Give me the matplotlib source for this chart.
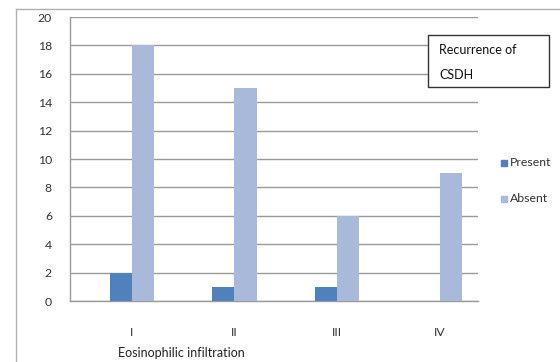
import numpy as np
import matplotlib.pyplot as plt
from matplotlib.patches import Rectangle
from matplotlib.lines import Line2D

plt.rcParams['font.family'] = ['Lato', 'DejaVu Sans']

# eosinophilic infiltration grades and recurrence counts
grades = ["I", "II", "III", "IV"]
present = [2, 1, 1, 0]
absent = [18, 15, 6, 9]
y_ticks = list(range(0, 21, 2))

c_present = "#4F81BD"
c_absent = "#A9B9D9"
c_grid = "#9a9a9a"

fig = plt.figure(figsize=(5.6, 3.62), dpi=100)
W, H = 560, 362

# outer chart frame (only top and left edges show)
fig.add_artist(Line2D([16 / W, 16 / W], [0, 1 - 9 / H], color="#b0b0b0", lw=1.0))
fig.add_artist(Line2D([16 / W, 1], [1 - 9 / H, 1 - 9 / H], color="#b0b0b0", lw=1.0))

ax = fig.add_axes([70 / W, 1 - 301 / H, (478 - 70) / W, (301 - 17) / H])

x = np.arange(len(grades))
bw = 0.215
ax.bar(x - bw / 2, present, bw, color=c_present, zorder=3, label="Present")
ax.bar(x + bw / 2, absent, bw, color=c_absent, zorder=3, label="Absent")

ax.set_xlim(-0.6, 3.37)
ax.set_ylim(0, 20)
ax.set_yticks(y_ticks)
ax.set_yticklabels([str(v) for v in y_ticks], fontsize=8.8, color="#333333")
ax.set_xticks(x)
ax.set_xticklabels(grades, fontsize=8.8, color="#333333")
ax.tick_params(axis="both", length=0)
ax.tick_params(axis="y", pad=13)
ax.tick_params(axis="x", pad=19)

ax.yaxis.grid(True, color=c_grid, lw=1.0, zorder=0)
for side in ["top", "right"]:
    ax.spines[side].set_visible(False)
for side in ["left", "bottom"]:
    ax.spines[side].set_color(c_grid)
    ax.spines[side].set_linewidth(1.0)

# axis title sits low, near the bottom edge
fig.text(118 / W, 1 - 353 / H, "Eosinophilic infiltration", fontsize=9,
         color="#222222", va="center", ha="left")

# legend entries
for lbl, col, yy in [("Present", c_present, 163), ("Absent", c_absent, 199)]:
    fig.add_artist(Rectangle((501 / W, 1 - (yy + 3) / H), 6 / W, 6 / H,
                             color=col, transform=fig.transFigure))
    fig.text(510 / W, 1 - yy / H, lbl, fontsize=8.8, color="#333333",
             va="center", ha="left")

# boxed title
fig.add_artist(Rectangle((428 / W, 1 - 87 / H), (549 - 428) / W, (87 - 35) / H,
                         facecolor="white", edgecolor="#333333", lw=1.0,
                         transform=fig.transFigure))
fig.text(439 / W, 1 - 50 / H, "Recurrence of", fontsize=9, color="#111111",
         va="center", ha="left")
fig.text(439 / W, 1 - 75 / H, "CSDH", fontsize=9, color="#111111",
         va="center", ha="left")

fig.savefig("out.png", dpi=100)
